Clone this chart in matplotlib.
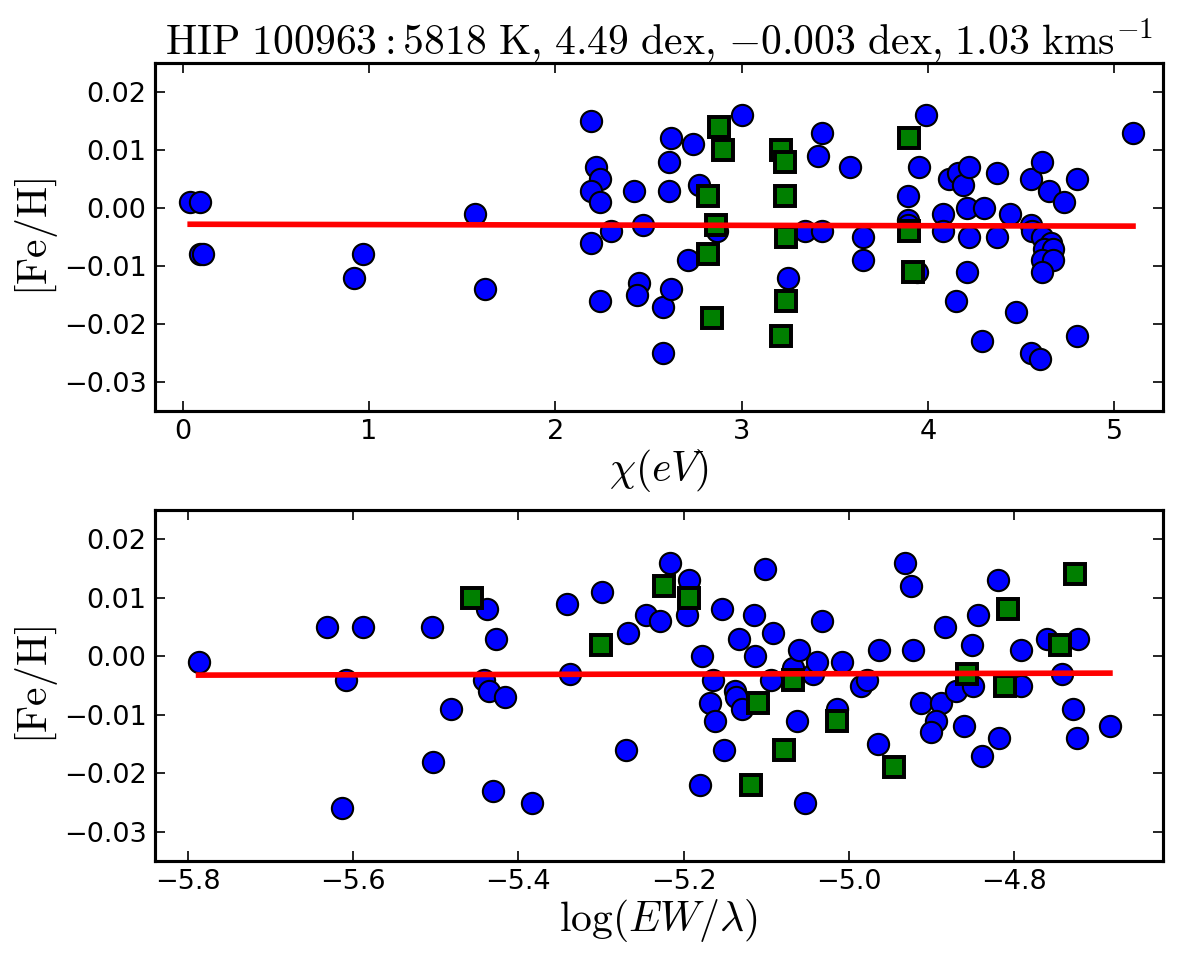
import numpy as np
import matplotlib
matplotlib.use("Agg")
import matplotlib.pyplot as plt

plt.rcParams['mathtext.fontset'] = 'cm'
plt.rcParams['font.family'] = ['DejaVu Sans']

title_text = r'$\mathrm{HIP\ 100963: 5818\ K{,}\ 4.49\ dex{,}\ {-}0.003\ dex{,}\ 1.03\ kms^{-1}}$'
ylabel_text = r'$\mathrm{[Fe/H]}$'
xlabel_top = r'$\chi (eV)$'
xlabel_bot = r'$\log(EW/\lambda)$'

# Fe I lines: excitation potential (top panel)
fe1_ep = [0.04, 0.09, 0.09, 0.11, 0.92, 0.97, 1.57, 1.62, 2.19, 2.22,
          2.24, 2.19, 2.24, 2.19, 2.30, 2.24, 2.42, 2.47, 2.45, 2.44,
          2.58, 2.58, 2.62, 2.74, 2.61, 2.61, 2.77, 3.00, 2.87, 2.71,
          2.62, 3.25, 3.34, 3.43, 3.43, 3.41, 3.58, 3.65, 3.65, 3.99,
          3.95, 3.89, 3.89, 3.89, 3.94, 4.08, 4.08, 4.11, 4.16, 4.19,
          4.22, 4.21, 4.22, 4.21, 4.15, 4.30, 4.29, 4.37, 4.37, 4.44,
          4.47, 4.55, 4.55, 4.56, 4.61, 4.65, 4.73, 4.80, 4.80, 4.55,
          4.60, 4.61, 4.66, 4.62, 4.67, 4.61, 4.67, 4.61, 5.10]
fe1_ab_top = [0.001, 0.001, -0.008, -0.008, -0.012, -0.008, -0.001, -0.014, 0.015, 0.007,
              0.005, 0.003, 0.001, -0.006, -0.004, -0.016, 0.003, -0.003, -0.013, -0.015,
              -0.017, -0.025, 0.012, 0.011, 0.008, 0.003, 0.004, 0.016, -0.004, -0.009,
              -0.014, -0.012, -0.004, -0.004, 0.013, 0.009, 0.007, -0.005, -0.009, 0.016,
              0.007, 0.002, -0.002, -0.003, -0.011, -0.001, -0.004, 0.005, 0.006, 0.004,
              0.007, 0.000, -0.005, -0.011, -0.016, 0.000, -0.023, 0.006, -0.005, -0.001,
              -0.018, 0.005, -0.003, -0.004, 0.008, 0.003, 0.001, 0.005, -0.022, -0.025,
              -0.026, -0.005, -0.006, -0.007, -0.007, -0.009, -0.009, -0.011, 0.013]

# Fe I lines: reduced equivalent width (bottom panel)
fe1_rew = [-5.787, -5.631, -5.588, -5.608, -5.613, -5.505, -5.482, -5.503, -5.438, -5.427,
           -5.441, -5.436, -5.416, -5.431, -5.384, -5.341, -5.338, -5.299, -5.267, -5.270,
           -5.246, -5.229, -5.216, -5.193, -5.196, -5.178, -5.165, -5.168, -5.162, -5.151,
           -5.180, -5.154, -5.133, -5.138, -5.136, -5.129, -5.115, -5.113, -5.101, -5.092,
           -5.094, -5.067, -5.060, -5.063, -5.053, -5.043, -5.038, -5.033, -5.014, -5.008,
           -4.985, -4.978, -4.964, -4.965, -4.932, -4.925, -4.922, -4.913, -4.889, -4.894,
           -4.900, -4.884, -4.870, -4.861, -4.850, -4.851, -4.844, -4.839, -4.820, -4.818,
           -4.792, -4.792, -4.760, -4.742, -4.723, -4.729, -4.724, -4.684]
fe1_ab_bot = [-0.001, 0.005, 0.005, -0.004, -0.026, 0.005, -0.009, -0.018, 0.008, 0.003,
              -0.004, -0.006, -0.007, -0.023, -0.025, 0.009, -0.003, 0.011, 0.004, -0.016,
              0.007, 0.006, 0.016, 0.013, 0.007, 0.000, -0.004, -0.008, -0.011, -0.016,
              -0.022, 0.008, 0.003, -0.006, -0.007, -0.009, 0.007, 0.000, 0.015, 0.004,
              -0.004, -0.002, 0.001, -0.011, -0.025, -0.003, -0.001, 0.006, -0.009, -0.001,
              -0.005, -0.004, 0.001, -0.015, 0.016, 0.012, 0.001, -0.008, -0.008, -0.011,
              -0.013, 0.005, -0.006, -0.012, -0.005, 0.002, 0.007, -0.017, 0.013, -0.014,
              -0.005, 0.001, 0.003, -0.003, 0.003, -0.009, -0.014, -0.012]

# Fe II lines
fe2_ep = [2.88, 2.90, 3.21, 2.82, 3.23, 2.86, 2.82, 2.84, 3.23, 3.24, 3.24, 3.21, 3.90, 3.90, 3.92]
fe2_rew = [-4.726, -5.456, -5.193, -5.300, -4.745, -4.857, -5.110, -4.945, -4.807, -4.811,
           -5.079, -5.119, -5.224, -5.068, -5.014]
fe2_ab = [0.014, 0.010, 0.010, 0.002, 0.002, -0.003, -0.008, -0.019, 0.008, -0.005,
          -0.016, -0.022, 0.012, -0.004, -0.011]

xlim_top = (-0.15, 5.26)
xlim_bot = (-5.84, -4.62)
ylim = (-0.035, 0.025)
xticks_top = [0, 1, 2, 3, 4, 5]
xticks_bot = [-5.8, -5.6, -5.4, -5.2, -5.0, -4.8]
yticks = [-0.03, -0.02, -0.01, 0.00, 0.01, 0.02]

fig = plt.figure(figsize=(8, 6.44), dpi=150)
ax1 = fig.add_axes([0.129, 0.5745, 0.840, 0.3603])
ax2 = fig.add_axes([0.129, 0.1087, 0.840, 0.3633])

def panel(ax, x1, y1, x2, y2, xlim, xticks, xlabel, fmt):
    ax.plot(x1, y1, 'o', color='#0000ff', markersize=10.2, markeredgecolor='black',
            markeredgewidth=1.0, zorder=2)
    ax.plot(x2, y2, 's', color='#007f00', markersize=10.0, markeredgecolor='black',
            markeredgewidth=1.9, zorder=3)
    xa = np.array(x1)
    ya = np.array(y1)
    coef = np.polyfit(xa, ya, 1)
    xs = np.array([xa.min(), xa.max()])
    ax.plot(xs, np.polyval(coef, xs), '-', color='#ff0000', lw=2.7, zorder=4)
    ax.set_xlim(*xlim)
    ax.set_ylim(*ylim)
    ax.set_xticks(xticks)
    ax.set_xticklabels([fmt(v) for v in xticks])
    ax.set_yticks(yticks)
    ax.set_yticklabels(['\u2212%.2f' % abs(v) if v < 0 else '%.2f' % v for v in yticks])
    ax.tick_params(direction='in', length=5, width=0.8, top=True, right=True,
                   labelsize=13, pad=4)
    for s in ax.spines.values():
        s.set_linewidth(1.5)
    ax.set_xlabel(xlabel, fontsize=20, labelpad=1)
    ax.set_ylabel(ylabel_text, fontsize=20, labelpad=2)

panel(ax1, fe1_ep, fe1_ab_top, fe2_ep, fe2_ab, xlim_top, xticks_top, xlabel_top,
      lambda v: '%d' % v)
panel(ax2, fe1_rew, fe1_ab_bot, fe2_rew, fe2_ab, xlim_bot, xticks_bot, xlabel_bot,
      lambda v: '\u2212%.1f' % abs(v) if v < 0 else '%.1f' % v)
ax1.set_title(title_text, fontsize=20, pad=4)

fig.savefig('out.png', dpi=150)
